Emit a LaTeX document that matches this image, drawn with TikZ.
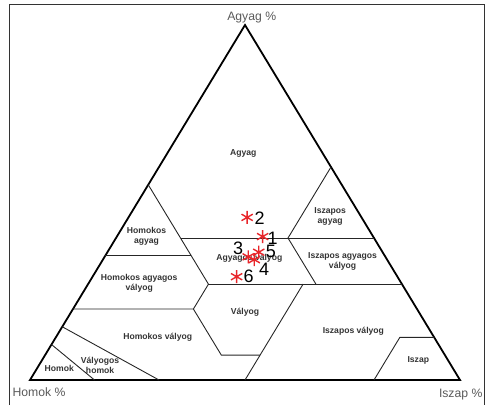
\documentclass[tikz,border=0pt]{standalone}
\usepackage{fontspec}
\setmainfont{Liberation Sans}
\definecolor{labelgray}{HTML}{333333}
\definecolor{axisgray}{HTML}{5A5A5A}
\definecolor{samplered}{HTML}{E8262B}
\tikzstyle{region} = [font=\bfseries\fontsize{8.6}{10}\selectfont, text=labelgray,
                 align=center, inner sep=0pt]
\tikzstyle{axislabel} = [font=\fontsize{12.2}{14}\selectfont, text=axisgray, inner sep=0pt]
\tikzstyle{frame} = [line width=0.8pt, draw=black!80]
\tikzstyle{boundary} = [line width=0.9pt, draw=black!85]
\tikzstyle{outline} = [line width=1.8pt, draw]
\tikzstyle{sample} = [line width=1.4pt, draw=samplered]
\tikzstyle{num} = [font=\fontsize{18}{18}\selectfont, inner sep=0pt]

\begin{document}
\begin{tikzpicture}[x=1pt, y=1pt]

\useasboundingbox (0,0) rectangle (487,-405);
\draw[frame] (9,-405) -- (9,-4) -- (484,-4) -- (484,-405);

\node[axislabel] (clayaxis) at (251.7,-17.3) {Agyag \%};
\node[axislabel] (sandaxis) at (39,-391.7) {Homok \%};
\node[axislabel] (siltaxis) at (460.7,-394.3) {Iszap \%};

\begin{scope}[shift={(30pt,-380pt)}, x=4.3pt, y=3.55pt]
    	% (silt + clay/2, clay)
\draw[outline] (0,0) -- (100,0) -- (50,100) -- cycle;

\draw[boundary] (17.5,35) -- (37.5,35);
\draw[boundary] (27.5,55) -- (41.5,27) -- (38,20) -- (10,20);
\draw[boundary] (38,20) -- (44.5,7) -- (53.5,7);
\draw[boundary] (35,40) -- (80,40);
\draw[boundary] (70,60) -- (60,40) -- (66.5,27);
\draw[boundary] (41.5,27) -- (86.5,27);
\draw[boundary] (63.5,27) -- (50,0);
\draw[boundary] (80,0) -- (86,12) -- (94,12);
\draw[boundary] (7.5,15) -- (30,0);
\draw[boundary] (5,10) -- (15,0);

\node[region] (clay) at (49.6,63.7) {Agyag};
\node[region] (sandyclay) at (27.1,40.4) {Homokos\\agyag};
\node[region] (siltyclay) at (69.8,46.2) {Iszapos\\agyag};
\node[region] (clayloam) at (51.0,34.3) {Agyagos vályog};
\node[region] (siltyclayloam) at (72.7,33.5) {Iszapos agyagos\\vályog};
\node[region] (sandyclayloam) at (25.4,27.2) {Homokos agyagos\\vályog};
\node[region] (loam) at (50.0,19.2) {Vályog};
\node[region] (sandyloam) at (29.7,12.0) {Homokos vályog};
\node[region] (siltloam) at (75.2,13.6) {Iszapos vályog};
\node[region] (silt) at (90.3,5.6) {Iszap};
\node[region] (sand) at (6.8,3.3) {Homok};
\node[region] (loamysand) at (16.3,4.0) {Vályogos\\homok};

    	%samples
\foreach \cl/\si/\n/\dx/\dy in {45.8/27.6/2/12.5/-1, 40.4/33.9/1/10/-2,
        34.7/33.4/3/-10/9, 36.0/35.2/5/12/1, 33.9/35.2/4/10/-10, 29.1/33.5/6/12/0}
{
	\coordinate (m\n) at ({\si+\cl/2},\cl);
	\draw[sample] (m\n) +(90:6.5pt) -- +(270:6.5pt) +(30:6.5pt) -- +(210:6.5pt)
		+(150:6.5pt) -- +(330:6.5pt);
	\node[num] (n\n) at ([shift={(\dx pt,\dy pt)}]m\n) {\n};
}
\end{scope}

\end{tikzpicture}
\end{document}
